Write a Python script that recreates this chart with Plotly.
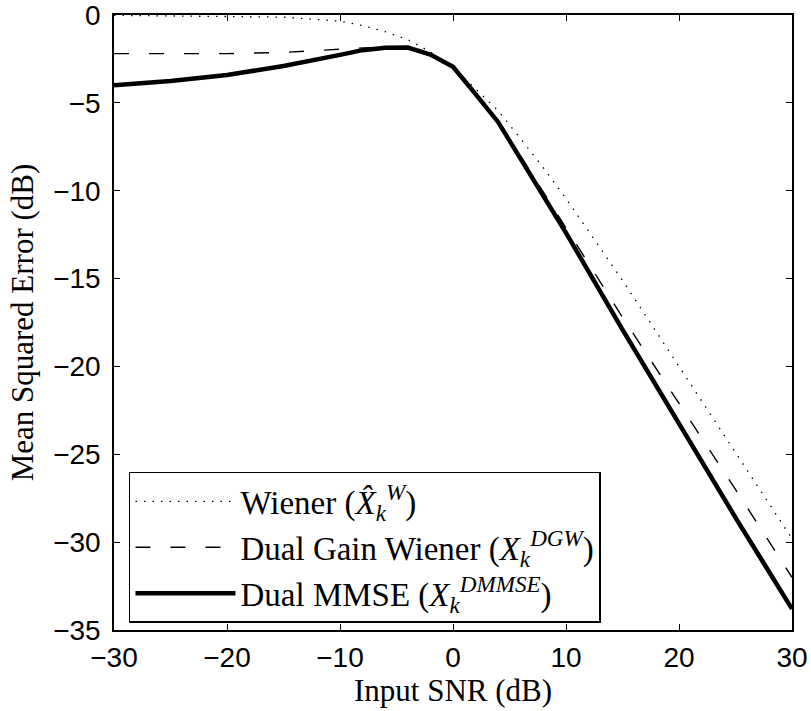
import plotly.graph_objects as go

# ---- data ----
snr_db = [-30, -25, -20, -15, -10, -8, -6, -4, -2, 0, 2, 4, 6, 8, 10, 15, 20, 25, 30]
mse_wiener = [-0.02, -0.04, -0.06, -0.12, -0.35, -0.6, -0.95, -1.4, -2.1, -3.0, -4.2,
              -5.45, -7.05, -8.7, -10.45, -15.1, -20.0, -24.9, -29.8]
mse_dgw = [-2.2, -2.2, -2.2, -2.13, -1.92, -1.87, -1.85, -1.85, -2.25, -2.95, -4.5,
           -6.05, -8.05, -10.1, -12.1, -17.2, -22.1, -27.0, -32.0]
mse_dmmse = [-4.0, -3.75, -3.42, -2.9, -2.27, -2.0, -1.87, -1.85, -2.25, -2.95, -4.5,
             -6.1, -8.2, -10.3, -12.4, -17.9, -23.3, -28.6, -33.8]

names = [
    "Wiener (<i>X̂</i><sub><i>k</i></sub><sup><i>W</i></sup>)",
    "Dual Gain Wiener (<i>X</i><sub><i>k</i></sub><sup><i>DGW</i></sup>)",
    "Dual MMSE (<i>X</i><sub><i>k</i></sub><sup><i>DMMSE</i></sup>)",
]
x_ticks = [-30, -20, -10, 0, 10, 20, 30]
y_ticks = [-35, -30, -25, -20, -15, -10, -5, 0]

fig = go.Figure()
fig.add_trace(go.Scatter(x=snr_db, y=mse_wiener, mode="lines", name=names[0],
                         line=dict(color="black", width=1.3, dash="1.5px,7px")))
fig.add_trace(go.Scatter(x=snr_db, y=mse_dgw, mode="lines", name=names[1],
                         line=dict(color="black", width=1.4, dash="15px,20px")))
fig.add_trace(go.Scatter(x=snr_db, y=mse_dmmse, mode="lines", name=names[2],
                         line=dict(color="black", width=4.5)))

axis_common = dict(
    showgrid=False, zeroline=False, showline=True, linecolor="black", linewidth=1.5,
    mirror="ticks", ticks="inside", ticklen=6, tickwidth=1.3, tickcolor="black",
    tickfont=dict(family="Liberation Sans", size=28, color="black"),
    ticklabeloverflow="allow",
)

fig.update_layout(
    width=811, height=711,
    margin=dict(l=114, r=19, t=15, b=81),
    paper_bgcolor="white", plot_bgcolor="white",
    xaxis=dict(range=[-30, 30], tickvals=x_ticks, ticklabelstandoff=2,
               title=dict(text="Input SNR (dB)", standoff=6,
                          font=dict(family="Liberation Serif", size=31, color="black")),
               automargin=False, **axis_common),
    yaxis=dict(range=[-35, 0], tickvals=y_ticks, ticklabelstandoff=6,
               title=dict(text="Mean Squared Error (dB)", standoff=10,
                          font=dict(family="Liberation Serif", size=31, color="black")),
               automargin=False, **axis_common),
    legend=dict(x=0.0221, y=0.257, xanchor="left", yanchor="top",
                bgcolor="white", bordercolor="black", borderwidth=1.5,
                font=dict(family="Liberation Serif", size=33, color="black"),
                itemwidth=100, tracegroupgap=0),
    showlegend=True,
)

fig.write_html("out.html")
